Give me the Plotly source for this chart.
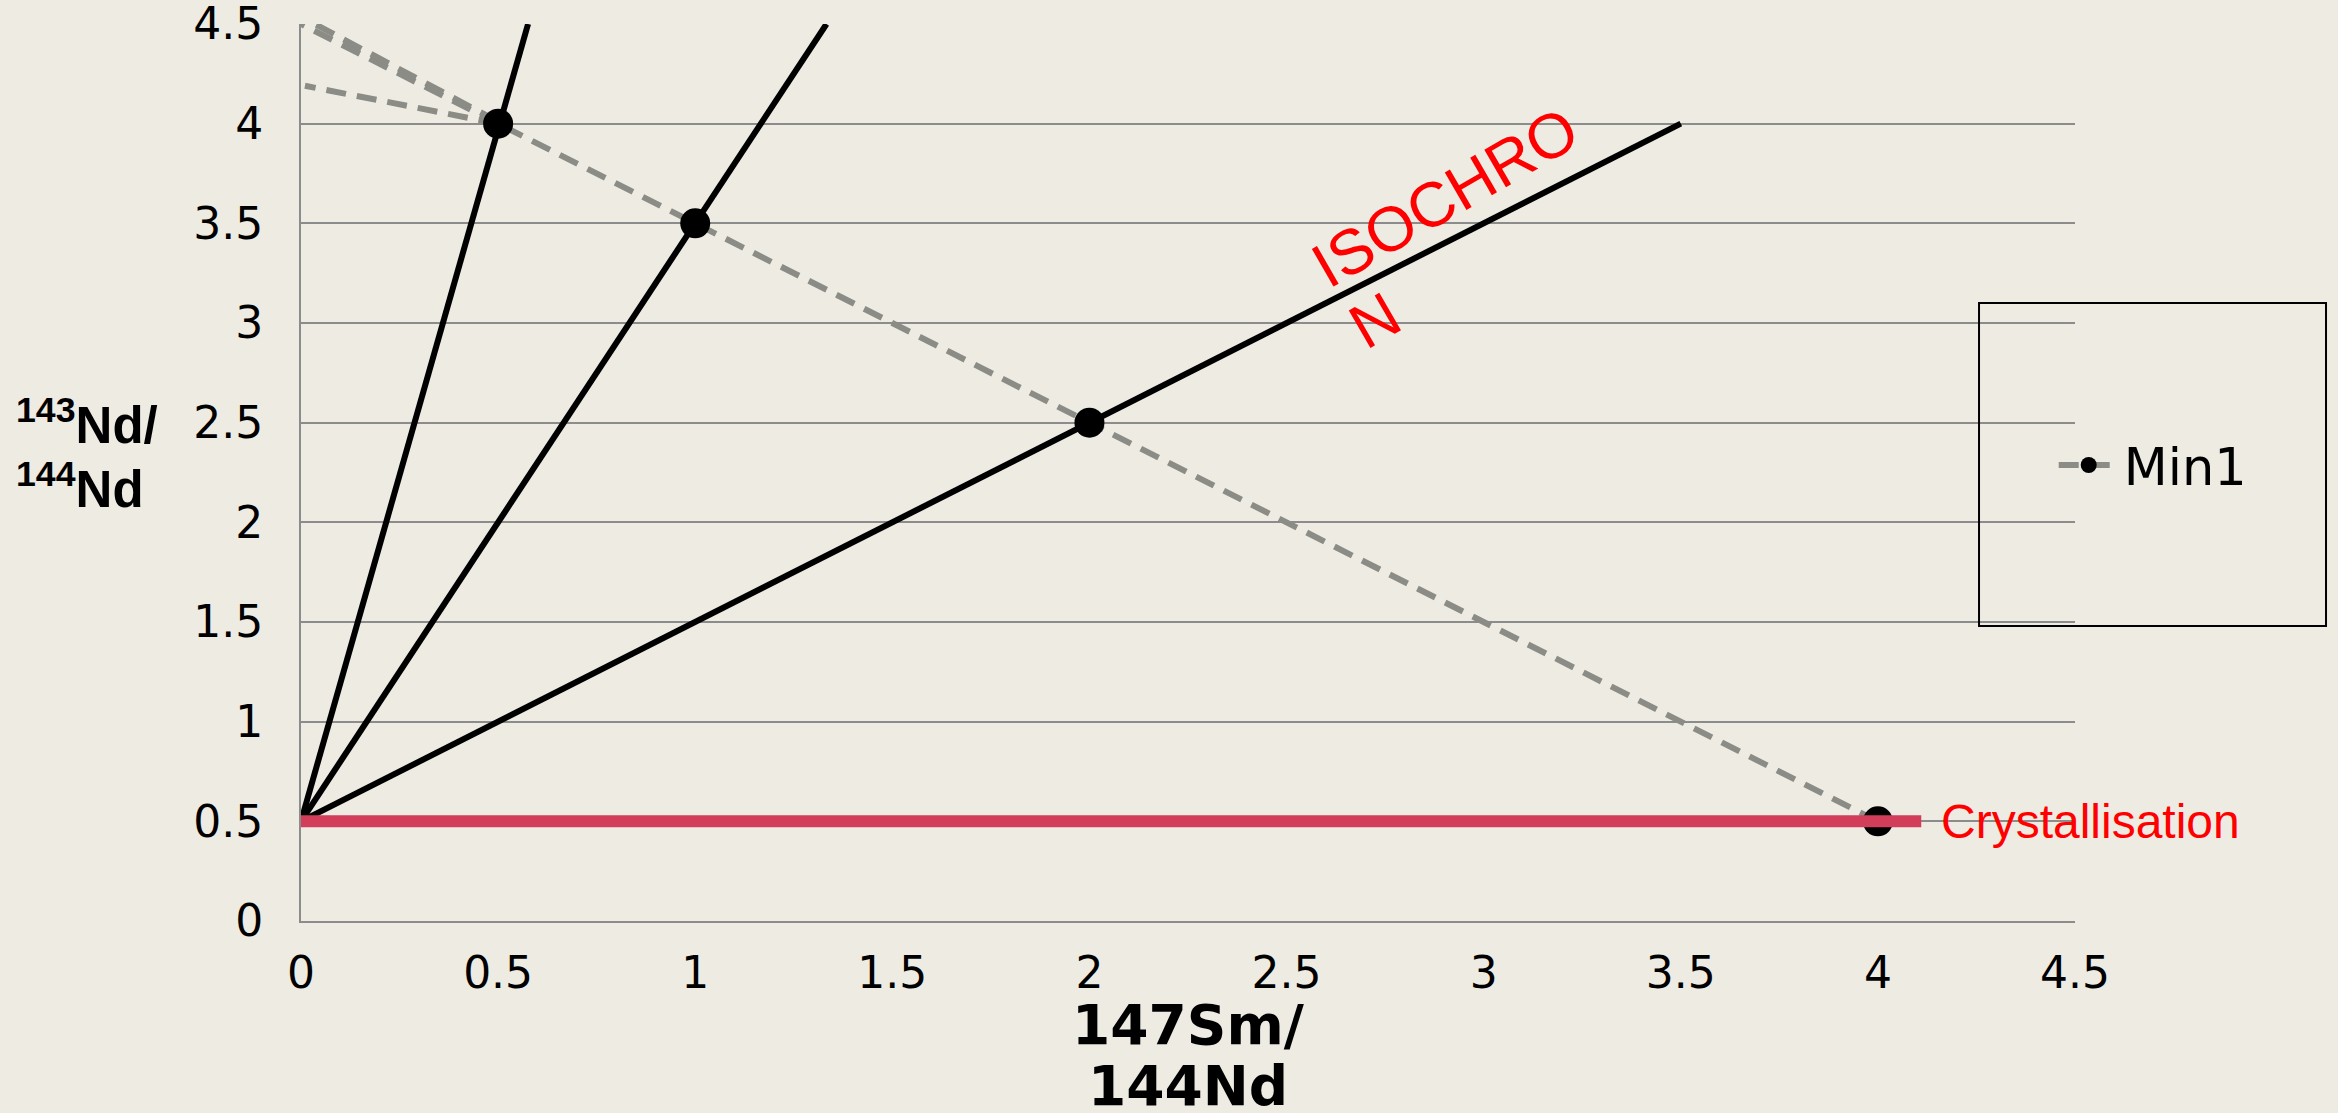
import plotly.graph_objects as go

# isochron lines, all starting at the initial ratio (0, 0.5)
isochron_x = [[0, 0.576], [0, 1.333], [0, 3.5]]
isochron_y = [[0.5, 4.5], [0.5, 4.5], [0.5, 4.0]]

# Min1 mineral points (dashed grey series)
min1_x = [4, 2, 1, 0.5]
min1_y = [0.5, 2.5, 3.5, 4.0]

# extra dashed segments towards the y axis
extra_x = [[0.5, 0], [0.5, 0.035], [0.5, 0.01]]
extra_y = [[4.0, 4.5], [4.01, 4.5], [4.0, 4.19]]

# crystallisation line
cryst_x = [0, 4.11]
cryst_y = [0.5, 0.5]

x_ticks = [0, 0.5, 1, 1.5, 2, 2.5, 3, 3.5, 4, 4.5]
y_ticks = [0, 0.5, 1, 1.5, 2, 2.5, 3, 3.5, 4, 4.5]

BG = "#EEEBE3"
GRID = "#8C8C8C"
DASH_GREY = "#8B8C85"
CRIMSON = "#D23D5A"
RED = "#FF0000"
ARIAL = "Liberation Sans, Arial"
DASH = "20px,11px"


def add_text(fig, text, x, y, ref="paper", size=40, family="DejaVu Sans",
             color="black", bold=False, xanchor="center", angle=0):
    fig.add_annotation(
        x=x, y=y, xref="x" if ref == "data" else "paper",
        yref="y" if ref == "data" else "paper",
        text=text, showarrow=False, xanchor=xanchor, yanchor="middle",
        textangle=angle,
        font=dict(family=family, size=size, color=color,
                  weight="bold" if bold else "normal")
    )


def build_figure():
    fig = go.Figure()

    # dashed extensions first so the black lines sit on top
    for xs, ys in zip(extra_x, extra_y):
        fig.add_trace(go.Scatter(
            x=xs, y=ys, mode="lines", showlegend=False, hoverinfo="skip",
            line=dict(color=DASH_GREY, width=6, dash=DASH)
        ))

    for xs, ys in zip(isochron_x, isochron_y):
        fig.add_trace(go.Scatter(
            x=xs, y=ys, mode="lines", showlegend=False, hoverinfo="skip",
            line=dict(color="black", width=6)
        ))

    fig.add_trace(go.Scatter(
        x=min1_x, y=min1_y, mode="lines+markers", name="Min1",
        line=dict(color=DASH_GREY, width=6, dash=DASH),
        marker=dict(color="black", size=30)
    ))

    fig.add_trace(go.Scatter(
        x=cryst_x, y=cryst_y, mode="lines", showlegend=False, hoverinfo="skip",
        line=dict(color=CRIMSON, width=12)
    ))

    add_text(fig, "Crystallisation", 4.155, 0.5, ref="data", size=48,
             family=ARIAL, color=RED, xanchor="left")
    add_text(fig, "ISOCHRO", 2.902, 3.631, ref="data", size=63,
             family=ARIAL, color=RED, angle=-30)
    add_text(fig, "N", 2.724, 3.014, ref="data", size=63,
             family=ARIAL, color=RED, angle=-30)

    # axis titles as annotations (the y title is horizontal, two lines)
    add_text(fig, "<sup>143</sup>Nd/", -0.162, 0.556, size=51, family=ARIAL,
             bold=True, xanchor="left")
    add_text(fig, "<sup>144</sup>Nd", -0.162, 0.485, size=51, family=ARIAL,
             bold=True, xanchor="left")
    add_text(fig, "147Sm/", 0.5, -0.1159, size=55, bold=True)
    add_text(fig, "144Nd", 0.5, -0.184, size=55, bold=True)

    # legend frame drawn as a shape, legend itself borderless inside it
    fig.add_shape(
        type="rect", xref="paper", yref="paper",
        x0=0.9459, x1=1.1415, y0=0.3289, y1=0.689,
        line=dict(color="black", width=2), fillcolor="rgba(0,0,0,0)"
    )

    fig.update_layout(
        width=2338, height=1113,
        paper_bgcolor=BG, plot_bgcolor=BG,
        margin=dict(l=301, r=263, t=24, b=192),
        font=dict(family="DejaVu Sans", size=44, color="black"),
        showlegend=True,
        legend=dict(
            x=0.988, y=0.508, xanchor="left", yanchor="middle",
            bgcolor="rgba(0,0,0,0)", borderwidth=0, itemwidth=60,
            font=dict(family="DejaVu Sans", size=51)
        )
    )
    fig.update_xaxes(
        range=[0, 4.5], tickvals=x_ticks, showgrid=False, zeroline=False,
        showline=True, linecolor=GRID, linewidth=2, ticks="", automargin=False,
        ticklabelstandoff=12, ticklabeloverflow="allow", tickfont=dict(size=44)
    )
    fig.update_yaxes(
        range=[0, 4.5], tickvals=y_ticks, showgrid=True, gridcolor=GRID, gridwidth=2,
        zeroline=False, showline=True, linecolor=GRID, linewidth=2, ticks="",
        automargin=False, ticklabelstandoff=27, ticklabeloverflow="allow",
        tickfont=dict(size=44)
    )
    return fig


fig = build_figure()
fig.write_html("out.html", config={"displayModeBar": False},
               post_script="document.body.style.margin='0';")
